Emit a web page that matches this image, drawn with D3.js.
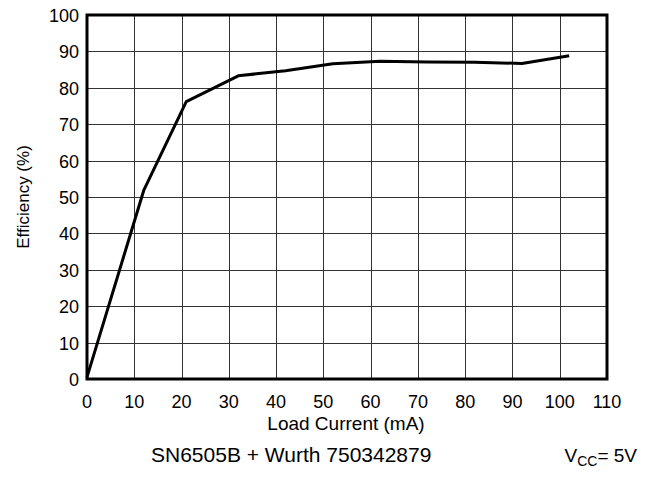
<!DOCTYPE html>
<html>
<head>
<meta charset="utf-8">
<script src="https://cdn.jsdelivr.net/npm/d3@7"></script>
<style>
  body { margin: 0; background: #fff; }
  text { font-family: "Liberation Sans", Arial, sans-serif; fill: #000; }
</style>
</head>
<body>
<div id="chart"></div>
<script>
// load current (mA) and efficiency (%)
var loadCurrent = [0, 12, 21, 32, 42, 52, 62, 72, 82, 92, 102];
var efficiency = [0.5, 51.8, 76.2, 83.3, 84.7, 86.6, 87.3, 87.1, 87.0, 86.7, 88.8];
var xTicks = [0, 10, 20, 30, 40, 50, 60, 70, 80, 90, 100, 110];
var yTicks = [0, 10, 20, 30, 40, 50, 60, 70, 80, 90, 100];

var width = 650, height = 477;
var margin = {left: 87, top: 15, right: 43, bottom: 98};

var svg = d3.select("#chart").append("svg")
    .attr("width", width).attr("height", height);

var x = d3.scaleLinear().domain([0, 110]).range([margin.left, width - margin.right]);
var y = d3.scaleLinear().domain([0, 100]).range([height - margin.bottom, margin.top]);

var grid = svg.append("g").attr("stroke", "#333").attr("stroke-width", 1);
grid.selectAll(".vx").data(xTicks.slice(1, -1)).enter().append("line")
    .attr("x1", d => Math.round(x(d)) + 0.5).attr("x2", d => Math.round(x(d)) + 0.5)
    .attr("y1", y(100)).attr("y2", y(0));
grid.selectAll(".hy").data(yTicks.slice(1, -1)).enter().append("line")
    .attr("y1", d => Math.round(y(d)) + 0.5).attr("y2", d => Math.round(y(d)) + 0.5)
    .attr("x1", x(0)).attr("x2", x(110));

// frame
svg.append("rect")
    .attr("x", x(0)).attr("y", y(100))
    .attr("width", x(110) - x(0)).attr("height", y(0) - y(100))
    .attr("fill", "none").attr("stroke", "#000").attr("stroke-width", 3);

var line = d3.line()
    .x((d, i) => x(loadCurrent[i]))
    .y(d => y(d));

svg.append("path")
    .datum(efficiency)
    .attr("d", line)
    .attr("fill", "none")
    .attr("stroke", "#000")
    .attr("stroke-width", 3)
    .attr("stroke-linejoin", "round");

svg.append("g").selectAll("text").data(xTicks).enter().append("text")
    .attr("x", d => x(d)).attr("y", y(0) + 29)
    .attr("text-anchor", "middle").attr("font-size", 18)
    .text(d => d);

svg.append("g").selectAll("text").data(yTicks).enter().append("text")
    .attr("x", x(0) - 8).attr("y", d => y(d) + 7)
    .attr("text-anchor", "end").attr("font-size", 18)
    .text(d => d);

svg.append("text")
    .attr("x", 346).attr("y", 430)
    .attr("text-anchor", "middle").attr("font-size", 19)
    .text("Load Current (mA)");

svg.append("text")
    .attr("transform", "translate(29," + ((y(0) + y(100)) / 2) + ") rotate(-90)")
    .attr("text-anchor", "middle").attr("font-size", 17)
    .text("Efficiency (%)");

svg.append("text")
    .attr("x", 151).attr("y", 462)
    .attr("font-size", 21)
    .text("SN6505B + Wurth 750342879");

var vcc = svg.append("text")
    .attr("x", 637).attr("y", 462)
    .attr("text-anchor", "end").attr("font-size", 19);
vcc.append("tspan").text("V");
vcc.append("tspan").attr("font-size", 14).attr("dy", 4).text("CC");
vcc.append("tspan").attr("dy", -4).text("= 5V");
</script>
</body>
</html>
